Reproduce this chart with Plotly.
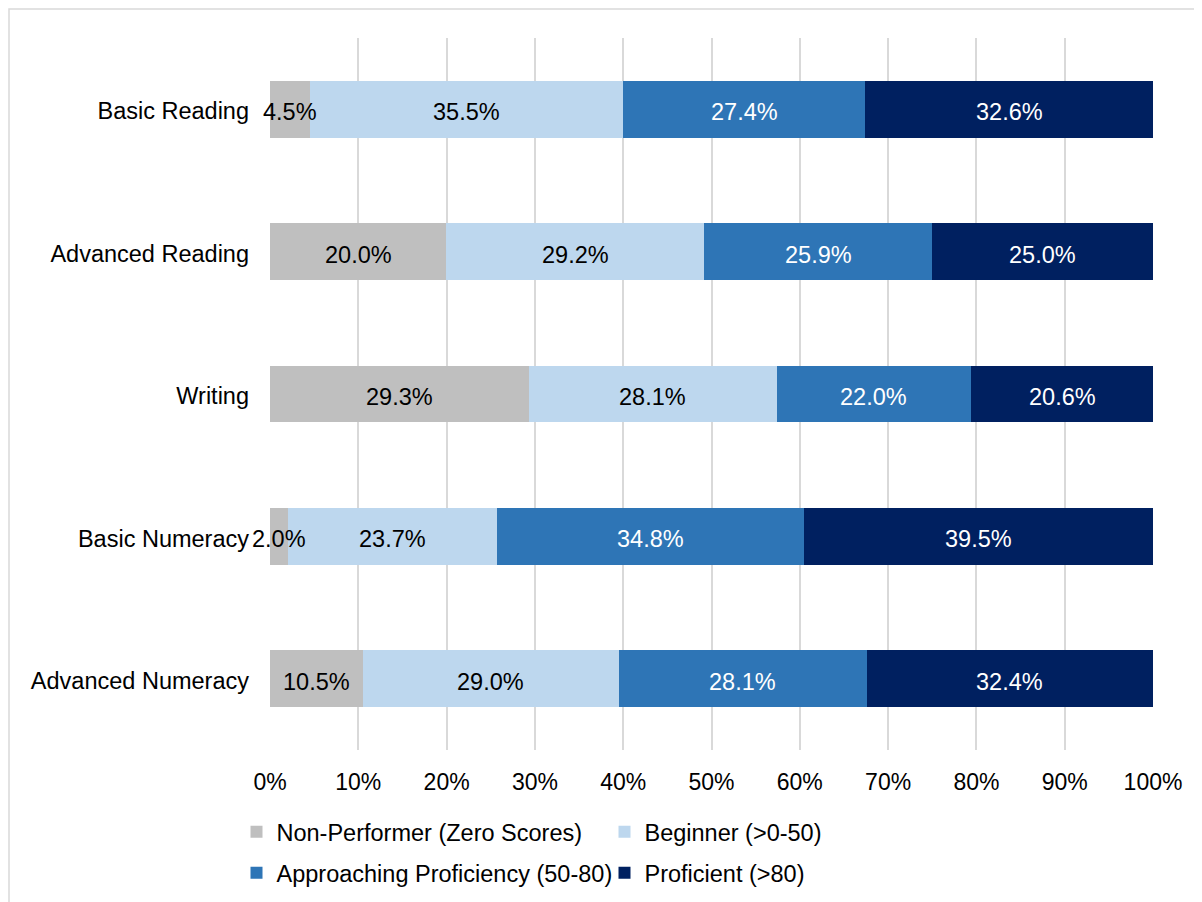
import plotly.graph_objects as go

categories = ["Basic Reading", "Advanced Reading", "Writing", "Basic Numeracy", "Advanced Numeracy"]
series_names = ["Non-Performer (Zero Scores)", "Beginner (>0-50)",
                "Approaching Proficiency (50-80)", "Proficient (>80)"]
non_performer = [4.5, 20.0, 29.3, 2.0, 10.5]
beginner = [35.5, 29.2, 28.1, 23.7, 29.0]
approaching = [27.4, 25.9, 22.0, 34.8, 28.1]
proficient = [32.6, 25.0, 20.6, 39.5, 32.4]
tick_vals = [0, 10, 20, 30, 40, 50, 60, 70, 80, 90, 100]
tick_text = ["0%", "10%", "20%", "30%", "40%", "50%", "60%", "70%", "80%", "90%", "100%"]

colors = ["#BFBFBF", "#BDD7EE", "#2E75B6", "#002060"]
text_colors = ["#000000", "#000000", "#FFFFFF", "#FFFFFF"]
legends = ["legend", "legend", "legend2", "legend2"]
all_series = [non_performer, beginner, approaching, proficient]

W, H = 1202, 902
L, R, T, B = 262, 57, 30, 160
pw, ph = W - L - R, H - T - B
FONT = "Liberation Sans, Arial, sans-serif"

fig = go.Figure()
for name, vals, c, lg in zip(series_names, all_series, colors, legends):
    fig.add_trace(go.Bar(
        y=categories, x=vals, name=name, orientation="h",
        marker=dict(color=c, line=dict(width=0)),
        legend=lg, hoverinfo="skip",
    ))

# data labels drawn on top of all bars (centred in each normalised segment)
annotations = []
totals = [sum(s[i] for s in all_series) for i in range(len(categories))]
cum = [0.0] * len(categories)
for vals, tc in zip(all_series, text_colors):
    for i, v in enumerate(vals):
        share = 100.0 * v / totals[i]
        annotations.append(dict(
            x=cum[i] + share / 2, y=categories[i], xref="x", yref="y",
            text=f"{v:.1f}%", showarrow=False, yshift=-3,
            xanchor="center", yanchor="middle",
            font=dict(color=tc, size=23.5, family=FONT),
        ))
        cum[i] += share

def px2paper_x(px):
    return (px - L) / pw

def px2paper_y(py):
    return (H - B - py) / ph

fig.update_layout(
    width=W, height=H,
    margin=dict(l=L, r=R, t=T, b=B, autoexpand=False),
    barmode="stack", barnorm="percent", bargap=0.6,
    paper_bgcolor="white", plot_bgcolor="white",
    font=dict(family=FONT, size=23.5, color="#000000"),
    xaxis=dict(range=[0, 100], tickvals=tick_vals, ticktext=tick_text,
               showgrid=True, gridcolor="#D9D9D9", gridwidth=1.5,
               zeroline=False, showline=False, ticks="",
               tickfont=dict(size=23, family=FONT, color="#000000"),
               ticklabelstandoff=16, fixedrange=True),
    yaxis=dict(categoryorder="array", categoryarray=categories, autorange="reversed",
               showgrid=False, zeroline=False, showline=False, ticks="",
               tickfont=dict(size=23.5, family=FONT, color="#000000"),
               ticklabelstandoff=20, ticklabelshift=-2, fixedrange=True),
    legend=dict(orientation="h", x=px2paper_x(228.5), xanchor="left",
                y=px2paper_y(824), yanchor="middle", entrywidth=323,
                font=dict(size=23.5, family=FONT), bgcolor="rgba(0,0,0,0)",
                traceorder="normal"),
    legend2=dict(orientation="h", x=px2paper_x(228.5), xanchor="left",
                 y=px2paper_y(865), yanchor="middle", entrywidth=323,
                 font=dict(size=23.5, family=FONT), bgcolor="rgba(0,0,0,0)",
                 traceorder="normal"),
    annotations=annotations,
    shapes=[dict(type="rect", xref="paper", yref="paper",
                 x0=px2paper_x(1), x1=px2paper_x(1230),
                 y0=px2paper_y(930), y1=px2paper_y(1),
                 line=dict(color="#D9D9D9", width=1.5), fillcolor="rgba(0,0,0,0)",
                 layer="below")],
)

fig.write_html("out.html")
